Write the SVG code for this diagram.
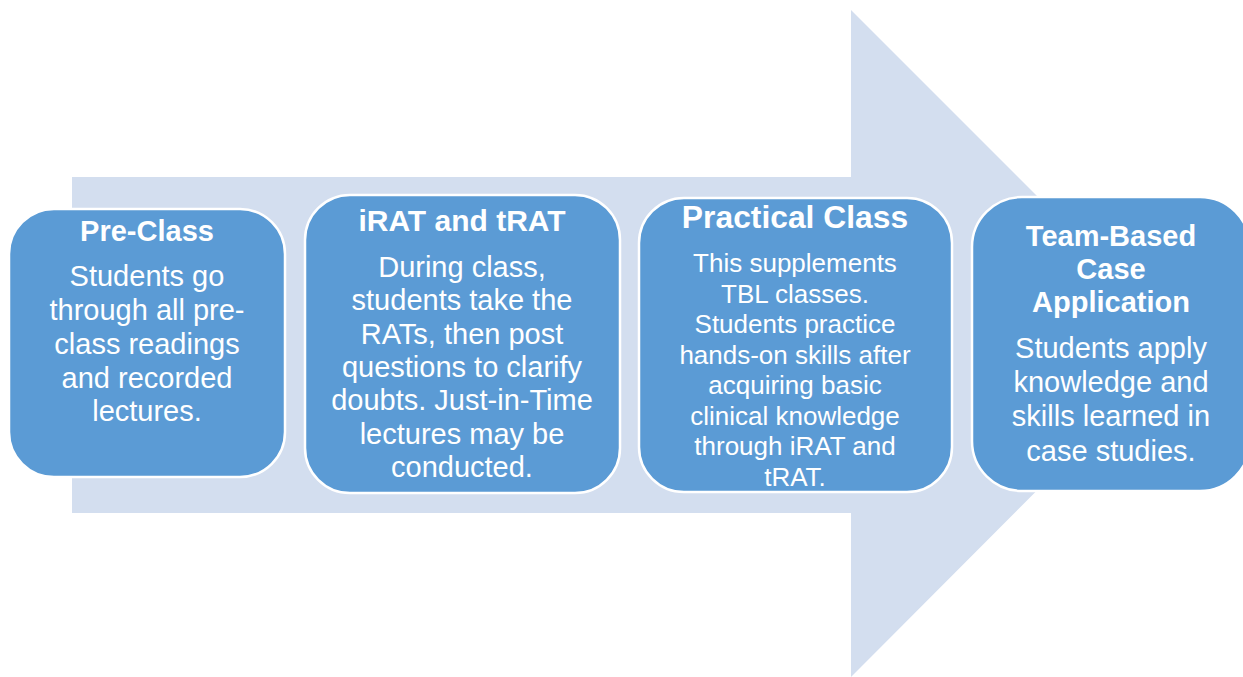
<svg xmlns="http://www.w3.org/2000/svg" width="1243" height="677" viewBox="0 0 1243 677">
<style>
.box{fill:#5b9bd5;stroke:#ffffff;stroke-width:2.5}
.t{font-family:"Liberation Sans",Arial,sans-serif;fill:#ffffff;text-anchor:middle}
.h{font-weight:bold;font-size:29px}
.b{font-size:29px}
.s{font-size:26px}
</style>
<rect width="1243" height="677" fill="#ffffff"/>
<g id="arrow">
<polygon points="72,177 851,177 851,10 1184,343 851,677 851,513 72,513" fill="#d3deef"/>
</g>
<g id="connectors"></g>
<g id="node-preclass">
<rect class="box" x="9" y="209" width="276" height="268" rx="45"/>
<text class="t h" x="147" y="241">Pre-Class</text>
<text class="t b" x="147" y="286">Students go</text>
<text class="t b" x="147" y="320">through all pre-</text>
<text class="t b" x="147" y="354">class readings</text>
<text class="t b" x="147" y="388">and recorded</text>
<text class="t b" x="147" y="421">lectures.</text>
</g>
<g id="node-rat">
<rect class="box" x="305" y="195" width="315" height="298" rx="45"/>
<text class="t h" x="462" y="231" style="font-size:30px">iRAT and tRAT</text>
<text class="t b" x="462" y="277">During class,</text>
<text class="t b" x="462" y="310">students take the</text>
<text class="t b" x="462" y="344">RATs, then post</text>
<text class="t b" x="462" y="377">questions to clarify</text>
<text class="t b" x="462" y="410">doubts. Just-in-Time</text>
<text class="t b" x="462" y="444">lectures may be</text>
<text class="t b" x="462" y="477">conducted.</text>
</g>
<g id="node-practical">
<rect class="box" x="639" y="198" width="313" height="294" rx="45"/>
<text class="t h" x="795" y="228" style="font-size:31.8px">Practical Class</text>
<text class="t s" x="795" y="272">This supplements</text>
<text class="t s" x="795" y="303">TBL classes.</text>
<text class="t s" x="795" y="333">Students practice</text>
<text class="t s" x="795" y="364">hands-on skills after</text>
<text class="t s" x="795" y="394">acquiring basic</text>
<text class="t s" x="795" y="425">clinical knowledge</text>
<text class="t s" x="795" y="455">through iRAT and</text>
<text class="t s" x="795" y="486">tRAT.</text>
</g>
<g id="node-case">
<rect class="box" x="972" y="197" width="278" height="294" rx="50"/>
<text class="t h" x="1111" y="246">Team-Based</text>
<text class="t h" x="1111" y="279">Case</text>
<text class="t h" x="1111" y="312">Application</text>
<text class="t b" x="1111" y="358">Students apply</text>
<text class="t b" x="1111" y="392">knowledge and</text>
<text class="t b" x="1111" y="426">skills learned in</text>
<text class="t b" x="1111" y="461">case studies.</text>
</g>
</svg>
